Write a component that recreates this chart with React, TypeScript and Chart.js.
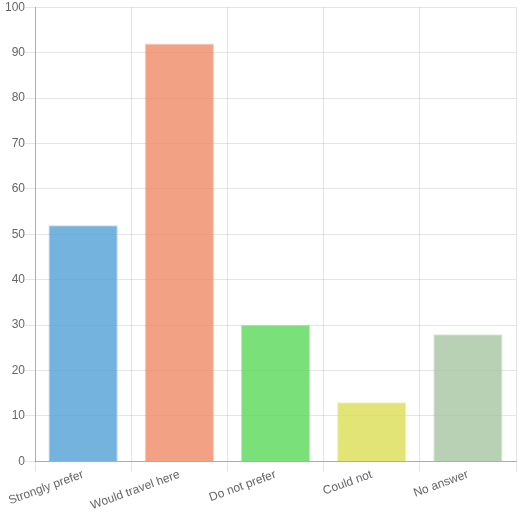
import React, { useEffect, useRef } from "react";
import { Chart, registerables } from "chart.js";

Chart.register(...registerables);

const categories = ["Strongly prefer", "Would travel here", "Do not prefer", "Could not", "No answer"];
const values = [52, 92, 30, 13, 28];
const fillColors = [
  "rgba(80,160,214,0.8)",
  "rgba(239,137,102,0.8)",
  "rgba(89,216,89,0.8)",
  "rgba(220,221,84,0.8)",
  "rgba(166,198,161,0.8)",
];
const borderColors = [
  "rgba(80,160,214,0.4)",
  "rgba(239,137,102,0.4)",
  "rgba(89,216,89,0.4)",
  "rgba(220,221,84,0.4)",
  "rgba(166,198,161,0.4)",
];

export default function App() {
  const ref = useRef<HTMLCanvasElement | null>(null);
  useEffect(() => {
    document.body.style.margin = "0";
    const ctx = ref.current!;
    Chart.defaults.font.family = "'Helvetica Neue', Helvetica, Arial, 'Liberation Sans', sans-serif";
    Chart.defaults.font.size = 12;
    Chart.defaults.color = "#666";
    const xGrid = (c: any) => (c.index === categories.length ? "rgba(0,0,0,0)" : "rgba(0,0,0,0.1)");
    const chart = new Chart(ctx, {
      type: "bar",
      data: {
        labels: categories,
        datasets: [
          {
            data: values,
            backgroundColor: fillColors,
            borderColor: borderColors,
            borderWidth: 1,
          },
        ],
      },
      options: {
        animation: false,
        responsive: false,
        plugins: { legend: { display: false }, tooltip: { enabled: false } },
        layout: { padding: { top: -2, right: 3, left: 5, bottom: 0 } },
        scales: {
          x: {
            grid: {
              offset: true,
              color: xGrid,
              tickColor: xGrid,
              tickLength: 10,
            },
            border: { color: "rgba(0,0,0,0.25)" },
            ticks: { color: "#666", padding: -4, minRotation: 20, maxRotation: 20 },
          },
          y: {
            min: 0,
            max: 100,
            ticks: { stepSize: 10, color: "#666", padding: 0 },
            grid: { color: "rgba(0,0,0,0.1)", tickLength: 10 },
            border: { color: "rgba(0,0,0,0.25)" },
          },
        },
      },
    });
    return () => chart.destroy();
  }, []);
  return <canvas ref={ref} width={519} height={509} style={{ display: "block" }} />;
}
